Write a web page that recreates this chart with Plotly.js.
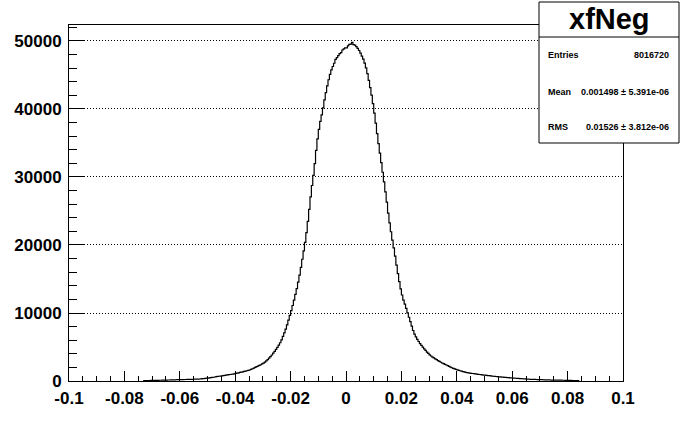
<!DOCTYPE html>
<html>
<head>
<meta charset="utf-8">
<script src="https://cdn.plot.ly/plotly-3.0.1.min.js"></script>
<style>
  html, body { margin: 0; padding: 0; background: #ffffff; }
  #chart { width: 692px; height: 444px; }
</style>
</head>
<body>
<div id="chart"></div>
<script>
// ---- data ----
const histName = "xfNeg";
const xMin = -0.1, xMax = 0.1;
const firstBinLow = -0.073;
const binWidth = 0.0005;
const counts = [
  52, 58, 62, 68, 72, 78, 82, 88, 92, 98,
  102, 108, 112, 118, 121, 129, 136, 144, 146, 154,
  161, 169, 176, 184, 191, 198, 202, 208, 212, 218,
  222, 229, 236, 244, 251, 259, 266, 274, 280, 290,
  295, 316, 339, 362, 388, 412, 435, 465, 495, 525,
  555, 590, 630, 666, 700, 731, 764, 796, 829, 861,
  894, 926, 959, 991, 1018, 1062, 1108, 1155, 1205, 1255,
  1305, 1355, 1405, 1455, 1505, 1560, 1620, 1700, 1800, 1900,
  2000, 2100, 2200, 2300, 2390, 2515, 2640, 2790, 2960, 3150,
  3350, 3575, 3825, 4090, 4360, 4650, 4950, 5275, 5625, 6050,
  6550, 7075, 7625, 8250, 8950, 9650, 10350, 11100, 11900, 12725,
  13575, 14525, 15575, 16700, 17900, 19125, 20375, 21825, 23475, 25225,
  27075, 28750, 30250, 31975, 33925, 35600, 37000, 38175, 39125, 40175,
  41325, 42400, 43400, 44300, 45100, 45750, 46250, 46725, 47300, 47550,
  47850, 48150, 48300, 48675, 48825, 48975, 49000, 49275, 49500, 49550,
  49800, 49450, 49400, 49175, 48925, 48600, 48200, 47775, 47325, 46750,
  46050, 45200, 44200, 43150, 42050, 40800, 39400, 37925, 36375, 34900,
  33500, 32100, 30700, 29275, 27825, 26300, 24700, 23250, 21950, 20725,
  19575, 18350, 17050, 15800, 14600, 13550, 12650, 11900, 11300, 10675,
  10025, 9375, 8725, 8075, 7425, 6900, 6500, 6135, 5810, 5510,
  5235, 4975, 4725, 4490, 4260, 4050, 3850, 3675, 3525, 3390,
  3260, 3140, 3010, 2890, 2760, 2650, 2550, 2450, 2350, 2250,
  2150, 2050, 1950, 1860, 1790, 1710, 1640, 1570, 1510, 1450,
  1390, 1330, 1280, 1230, 1195, 1165, 1135, 1105, 1075, 1045,
  1015, 985, 955, 925, 898, 873, 851, 828, 802, 778,
  752, 728, 702, 680, 660, 640, 620, 600, 580, 560,
  540, 521, 504, 486, 469, 452, 438, 422, 408, 392,
  378, 362, 348, 332, 318, 302, 288, 274, 261, 251,
  244, 236, 229, 221, 214, 206, 199, 191, 184, 176,
  169, 161, 153, 148, 143, 138, 132, 128, 127, 123,
  120, 116, 112, 108, 103, 97, 93, 87, 83, 77,
  74, 66, 60, 50
];
const xTickVals = [-0.1, -0.08, -0.06, -0.04, -0.02, 0, 0.02, 0.04, 0.06, 0.08, 0.1];
const xTickText = ["-0.1", "-0.08", "-0.06", "-0.04", "-0.02", "0", "0.02", "0.04", "0.06", "0.08", "0.1"];
const yTickVals = [0, 10000, 20000, 30000, 40000, 50000];
const yTickText = ["0", "10000", "20000", "30000", "40000", "50000"];
const statLabels = ["Entries", "Mean", "RMS"];
const statValues = ["8016720", "0.001498 \u00b1 5.391e-06", "0.01526 \u00b1 3.812e-06"];
const yMax = 52350;

// ---- build step outline ----
const xs = [firstBinLow];
const ys = [0];
for (let i = 0; i < counts.length; i++) {
  xs.push(firstBinLow + i * binWidth);
  ys.push(counts[i]);
}
xs.push(firstBinLow + counts.length * binWidth);
ys.push(0);

const trace = {
  type: "scatter",
  mode: "lines",
  x: xs,
  y: ys,
  line: { shape: "hv", color: "#000000", width: 1.2 },
  hoverinfo: "skip",
  showlegend: false
};

// pixel helpers for the stats box (plot area: x 69..623, y 25..381)
const L = 69, R = 623, T = 25, B = 381;
const px = v => (v - L) / (R - L);
const py = v => (B - v) / (B - T);

const tickFont = { family: "Liberation Sans, Arial, sans-serif", size: 17, color: "#000000", weight: "bold" };
const statFont = { family: "Liberation Sans, Arial, sans-serif", size: 9, color: "#000000", weight: "bold" };

const annotations = [
  {
    xref: "paper", yref: "paper", x: px(609), y: py(19), xanchor: "center", yanchor: "middle",
    text: histName, showarrow: false,
    font: { family: "Liberation Sans, Arial, sans-serif", size: 29, color: "#000000", weight: "bold" }
  }
];
const rowY = [55, 92, 127];
for (let i = 0; i < statLabels.length; i++) {
  annotations.push({
    xref: "paper", yref: "paper", x: px(546), y: py(rowY[i]), xanchor: "left", yanchor: "middle",
    text: statLabels[i], showarrow: false, font: statFont
  });
  annotations.push({
    xref: "paper", yref: "paper", x: px(671), y: py(rowY[i]), xanchor: "right", yanchor: "middle",
    text: statValues[i], showarrow: false, font: statFont
  });
}

const layout = {
  width: 692,
  height: 444,
  margin: { l: L, r: 692 - R, t: T, b: 444 - B, pad: 0 },
  paper_bgcolor: "#ffffff",
  plot_bgcolor: "#ffffff",
  showlegend: false,
  xaxis: {
    range: [xMin, xMax],
    tickmode: "array",
    tickvals: xTickVals,
    ticktext: xTickText,
    ticks: "inside",
    ticklen: 10,
    tickwidth: 1,
    tickcolor: "#000000",
    tickfont: tickFont,
    ticklabelstandoff: 2,
    showline: true,
    mirror: true,
    linecolor: "#000000",
    linewidth: 1,
    showgrid: false,
    zeroline: false,
    minor: { dtick: 0.005, tick0: -0.1, ticks: "inside", ticklen: 5, tickcolor: "#000000", showgrid: false }
  },
  yaxis: {
    range: [0, yMax],
    tickmode: "array",
    tickvals: yTickVals,
    ticktext: yTickText,
    ticks: "inside",
    ticklen: 15,
    tickwidth: 1,
    tickcolor: "#000000",
    tickfont: tickFont,
    ticklabelstandoff: 3,
    showline: true,
    mirror: true,
    linecolor: "#000000",
    linewidth: 1,
    showgrid: true,
    gridcolor: "#000000",
    griddash: "1px,2px",
    gridwidth: 1,
    zeroline: false,
    minor: { dtick: 2000, tick0: 0, ticks: "inside", ticklen: 8, tickcolor: "#000000", showgrid: false }
  },
  shapes: [
    {
      type: "rect", xref: "paper", yref: "paper", layer: "above",
      x0: px(539), x1: px(679), y0: py(143), y1: py(2),
      line: { color: "#000000", width: 1 }, fillcolor: "#ffffff"
    },
    {
      type: "line", xref: "paper", yref: "paper", layer: "above",
      x0: px(539), x1: px(679), y0: py(37), y1: py(37),
      line: { color: "#000000", width: 1 }
    }
  ],
  annotations: annotations
};

Plotly.newPlot("chart", [trace], layout, { staticPlot: true, displayModeBar: false });
</script>
</body>
</html>
